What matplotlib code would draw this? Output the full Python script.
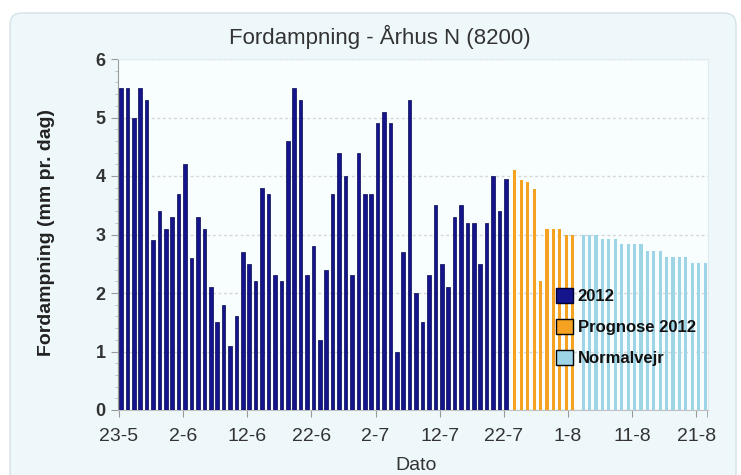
import matplotlib
matplotlib.use("Agg")
import matplotlib.pyplot as plt
from matplotlib.patches import FancyBboxPatch, Patch
from matplotlib.ticker import MultipleLocator, FixedLocator
import numpy as np

# ---- data ----
obs_2012 = [5.5, 5.5, 5.0, 5.5, 5.3, 2.9, 3.4, 3.1, 3.3, 3.7,
            4.2, 2.6, 3.3, 3.1, 2.1, 1.5, 1.8, 1.1, 1.6, 2.7,
            2.5, 2.2, 3.8, 3.7, 2.3, 2.2, 4.6, 5.5, 5.3, 2.3,
            2.8, 1.2, 2.4, 3.7, 4.4, 4.0, 2.3, 4.4, 3.7, 3.7,
            4.9, 5.1, 4.9, 1.0, 2.7, 5.3, 2.0, 1.5, 2.3, 3.5,
            2.5, 2.1, 3.3, 3.5, 3.2, 3.2, 2.5, 3.2, 4.0, 3.4, 3.95]
prognose_2012 = [4.1, 3.93, 3.9, 3.77, 2.2, 3.1, 3.1, 3.1, 3.0, 3.0]
normalvejr = [3.0, 3.0, 3.0, 2.92, 2.92, 2.92, 2.83, 2.83, 2.83, 2.83,
              2.71, 2.71, 2.71, 2.62, 2.62, 2.62, 2.62, 2.52, 2.52, 2.52]
# first day of each series, as days after 23-5
start_2012 = 0
start_prognose = 62
start_normal = 72
tick_days = [0, 10, 20, 30, 40, 50, 60, 70, 80, 90]
tick_labels = ["23-5", "2-6", "12-6", "22-6", "2-7", "12-7", "22-7", "1-8", "11-8", "21-8"]
series_names = ["2012", "Prognose 2012", "Normalvejr"]

NARROW = ["Liberation Sans Narrow", "DejaVu Sans Condensed", "Liberation Sans", "DejaVu Sans"]

c_blue = "#14148c"
c_orange = "#F5A222"
c_light = "#9DD5E7"

fig = plt.figure(figsize=(7.41, 4.75), dpi=100)
fig.patch.set_facecolor("white")
bg = FancyBboxPatch((0.10, -0.2), 7.26, 4.82,
                    boxstyle="round,pad=0,rounding_size=0.12",
                    transform=fig.dpi_scale_trans, facecolor="#EEF8FB",
                    edgecolor="#D3E2E7", linewidth=1.0, zorder=-5)
fig.patches.append(bg)

ax = fig.add_axes([118/741, 1 - 410/475, 590/741, 351/475])
ax.set_zorder(2)
ax.set_facecolor("#F8FDFE")

x1 = start_2012 + np.arange(len(obs_2012)) + 0.3
x2 = start_prognose + np.arange(len(prognose_2012)) - 0.3
x3 = start_normal + np.arange(len(normalvejr)) + 0.35
ax.bar(x1, obs_2012, width=0.56, color=c_blue, edgecolor="#07074f", linewidth=0.5, zorder=3)
ax.bar(x2, prognose_2012, width=0.5, color=c_orange, linewidth=0, zorder=3)
ax.bar(x3, normalvejr, width=0.5, color=c_light, linewidth=0, zorder=3)

ax.set_xlim(-0.15, 91.8)
ax.set_ylim(0, 6)
ax.yaxis.set_major_locator(MultipleLocator(1))
ax.yaxis.set_minor_locator(MultipleLocator(0.2))
ax.xaxis.set_major_locator(FixedLocator(tick_days))
ax.xaxis.set_minor_locator(FixedLocator([91.7]))
ax.set_xticklabels(tick_labels)
ax.grid(axis="y", which="major", color="#d6d6d6", linestyle=(0, (2, 2)), linewidth=1.0, zorder=1)

for s in ["top", "right"]:
    ax.spines[s].set_color("#E2EBEE")
ax.spines["left"].set_color("#9a9a9a")
ax.spines["bottom"].set_color("#c0c0c0")
ax.tick_params(axis="y", which="major", length=5, color="#999999", pad=4)
ax.tick_params(axis="y", which="minor", length=2, color="#bbbbbb")
ax.tick_params(axis="x", which="major", length=5, color="#999999", pad=8)
ax.tick_params(axis="x", which="minor", length=5, color="#999999")
for lab in ax.get_yticklabels():
    lab.set_family(NARROW); lab.set_fontsize(13); lab.set_fontweight("bold"); lab.set_color("#333333")
for lab in ax.get_xticklabels():
    lab.set_family(NARROW); lab.set_fontsize(14); lab.set_color("#333333")

fig.text(380/741, 1 - 37/475, "Fordampning - Århus N (8200)", family=NARROW,
         fontsize=16, color="#333333", ha="center", va="center")
fig.text(47/741, 1 - 233/475, "Fordampning (mm pr. dag)", family=NARROW,
         fontsize=14, fontweight="bold", color="#222222", rotation=90,
         ha="center", va="center")
fig.text(416/741, 1 - 465/475, "Dato", family=NARROW, fontsize=14,
         color="#333333", ha="center", va="center")

handles = [Patch(facecolor=c_blue, edgecolor="#000033", linewidth=1.0),
           Patch(facecolor=c_orange, edgecolor="#000000", linewidth=1.0),
           Patch(facecolor=c_light, edgecolor="#000000", linewidth=1.0)]
leg = ax.legend(handles, series_names, loc="upper left",
                bbox_to_anchor=((556 - 118) / 590, (410 - 288) / 351),
                frameon=False, handlelength=1.0, handleheight=1.0,
                handletextpad=0.3, labelspacing=0.9, borderaxespad=0,
                borderpad=0, prop={"family": NARROW, "weight": "bold", "size": 12})
for t in leg.get_texts():
    t.set_color("#111111")

fig.savefig("out.png", dpi=100)
